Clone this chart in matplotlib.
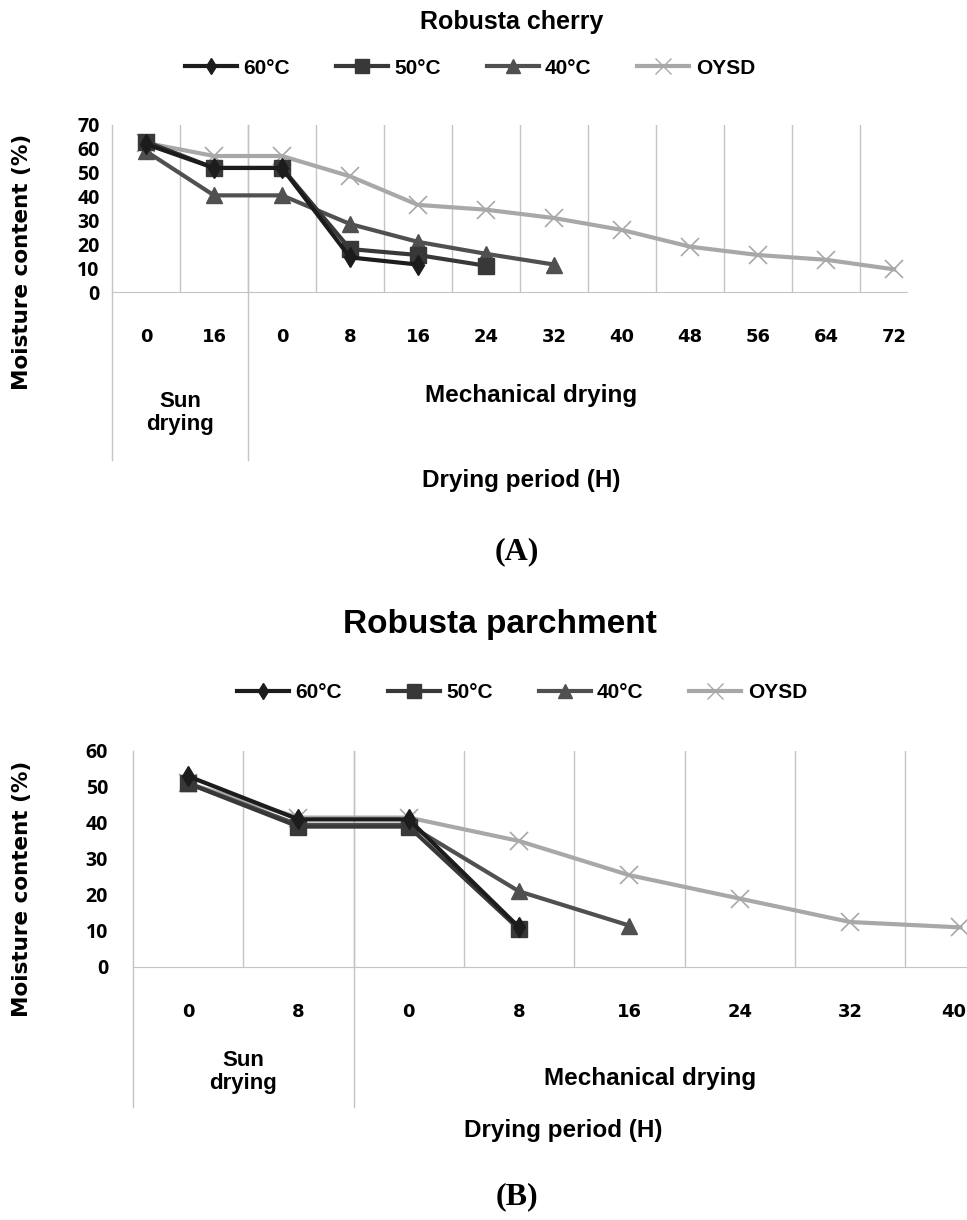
import matplotlib.pyplot as plt
from matplotlib.lines import Line2D
import matplotlib.transforms as mtransforms

# ---- data ----
cats_a = ['0', '16', '0', '8', '16', '24', '32', '40', '48', '56', '64', '72']
a_60 = [62, 52, 52, 14.5, 11.5]
a_50 = [63, 52, 52, 18, 15.5, 11]
a_40 = [59, 40.5, 40.5, 28.5, 21, 16, 11.5]
a_oysd = [62.5, 57, 57, 48.5, 36.5, 34.5, 31, 26, 19, 15.5, 13.5, 9.5]

cats_b = ['0', '8', '0', '8', '16', '24', '32', '40']
b_60 = [53, 41, 41, 11]
b_50 = [51, 39, 39, 10.5]
b_40 = [51, 39.5, 39.5, 21, 11.5]
b_oysd = [51, 41.5, 41.5, 35, 25.5, 19, 12.5, 11]

labels = ['60°C', '50°C', '40°C', 'OYSD']
colors = ['#1c1c1c', '#383838', '#505050', '#a8a8a8']
markers = ['d', 's', '^', 'x']
msizes = [10, 11.5, 11.5, 13]

plt.rcParams['font.family'] = ['Liberation Sans', 'DejaVu Sans']
plt.rcParams['font.weight'] = 'bold'

W, H = 967, 1220
fig = plt.figure(figsize=(W / 100, H / 100), dpi=100)


def px(x, y):
    return x / W, 1 - y / H


def panel(rect, cats, series, ymax, xright, ytick_pad, sep_bottom):
    ax = fig.add_axes(rect)
    n = len(cats)
    for i, ys in reversed(list(enumerate(series))):
        ax.plot(range(len(ys)), ys, color=colors[i], lw=3,
                marker=markers[i], ms=msizes[i],
                mew=1.2 if markers[i] == 'x' else 1, zorder=3 + (3 - i))
    ax.set_xlim(-0.5, xright)
    ax.set_ylim(0, ymax)
    # category boundary grid
    for k in range(n - 1):
        ax.axvline(k + 0.5, color='#c4c4c4', lw=1, zorder=1)
    for s in ['top', 'right', 'left']:
        ax.spines[s].set_visible(False)
    ax.spines['bottom'].set_color('#c4c4c4')
    ax.set_xticks(range(n))
    ax.set_xticklabels(cats, family='DejaVu Sans', fontsize=13)
    ax.set_yticks(range(0, ymax + 1, 10))
    ax.set_yticklabels([str(v) for v in range(0, ymax + 1, 10)],
                       family=['Open Sans', 'DejaVu Sans'], fontsize=14)
    ax.tick_params(axis='x', length=0, pad=26)
    ax.tick_params(axis='y', length=0, pad=ytick_pad)
    # separators extending below the axis
    tr = mtransforms.blended_transform_factory(ax.transData, ax.transAxes)
    for xv in [-0.5, 1.5]:
        ax.plot([xv, xv], [1, sep_bottom], transform=tr, color='#c4c4c4',
                lw=1, clip_on=False, zorder=1)
    return ax, tr


def legend(cx, cy):
    handles = [Line2D([], [], color=colors[i], lw=3, marker=markers[i],
                      ms=msizes[i] - 1.5) for i in range(4)]
    fig.legend(handles, labels, loc='center', bbox_to_anchor=px(cx, cy),
               ncol=4, frameon=False, fontsize=15, handlelength=2.5,
               handletextpad=0.3, columnspacing=2.2)


# ---- panel A ----
axa, tra = panel([112 / W, 1 - 292 / H, 795 / W, 167 / H], cats_a,
                 [a_60, a_50, a_40, a_oysd], 70, 11.19, 9, -1.006)
fig.text(*px(512, 22), 'Robusta cherry', ha='center', va='center', fontsize=18)
legend(470, 68)
fig.text(*px(22, 262), 'Moisture content (%)', rotation=90, ha='center',
         va='center', family='DejaVu Sans', fontsize=15.5)
axa.text(0.5, -0.725, 'Sun\ndrying', transform=tra, ha='center', va='center',
         fontsize=16, linespacing=1.1)
axa.text(5.66, -0.617, 'Mechanical drying', transform=tra, ha='center',
         va='center', fontsize=17.5)
fig.text(*px(521, 480), 'Drying period (H)', ha='center', va='center',
         fontsize=17.5)
fig.text(*px(517, 552), '(A)', ha='center', va='center', fontsize=23,
         family='Liberation Serif')

# ---- panel B ----
axb, trb = panel([133 / W, 1 - 967 / H, 834 / W, 216 / H], cats_b,
                 [b_60, b_50, b_40, b_oysd], 60, 7.06, 18, -0.648)
# keep the last tick label inside the picture
last = axb.get_xticklabels()[-1]
last.set_transform(last.get_transform() +
                   mtransforms.ScaledTranslation(-0.07, 0, fig.dpi_scale_trans))
fig.text(*px(500, 624), 'Robusta parchment', ha='center', va='center',
         fontsize=24)
legend(522, 693)
fig.text(*px(22, 889), 'Moisture content (%)', rotation=90, ha='center',
         va='center', family='DejaVu Sans', fontsize=15.5)
axb.text(0.5, -0.486, 'Sun\ndrying', transform=trb, ha='center', va='center',
         fontsize=16, linespacing=1.1)
axb.text(4.19, -0.514, 'Mechanical drying', transform=trb, ha='center',
         va='center', fontsize=17.5)
fig.text(*px(563, 1130), 'Drying period (H)', ha='center', va='center',
         fontsize=17.5)
fig.text(*px(517, 1197), '(B)', ha='center', va='center', fontsize=23,
         family='Liberation Serif')

fig.savefig('out.png', dpi=100)
